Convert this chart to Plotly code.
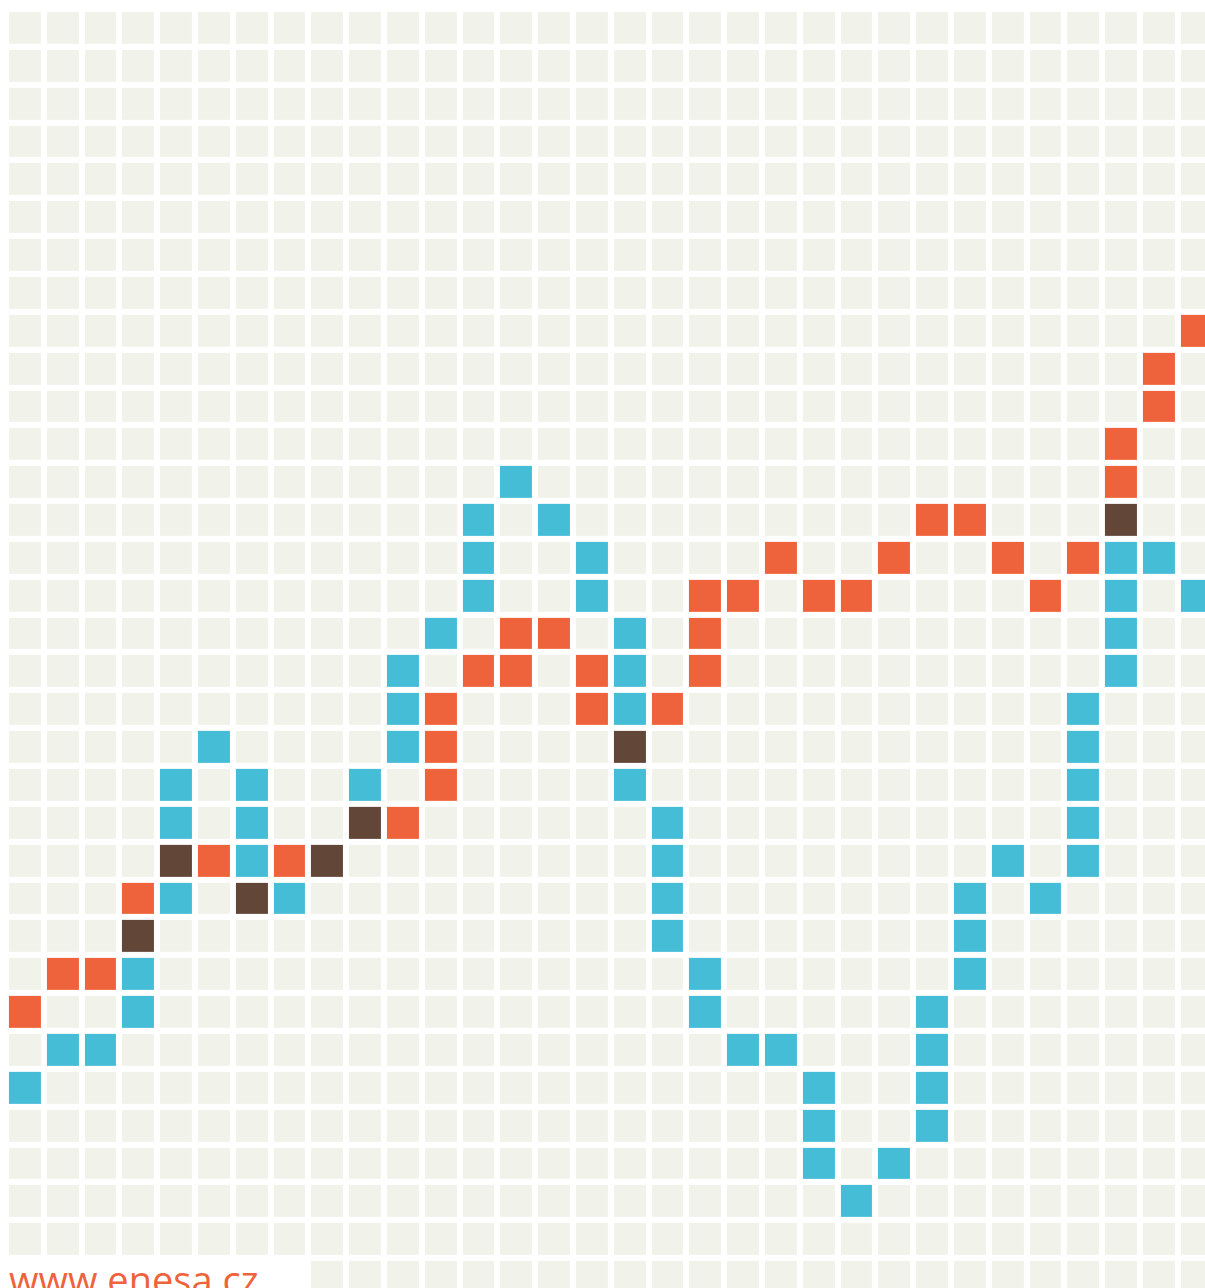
import numpy as np
import plotly.graph_objects as go

# Grid size
n_cols = 32
n_rows = 34

# Orange series cells (column, row counted from the top)
orange_cols = [0, 1, 2, 3, 5, 7, 10, 11, 11, 11, 12, 13, 13, 14, 15, 15, 17, 18, 18, 18,
               19, 20, 21, 22, 23, 24, 25, 26, 27, 28, 29, 29, 30, 30, 31]
orange_rows = [26, 25, 25, 23, 22, 22, 21, 20, 19, 18, 17, 17, 16, 16, 17, 18, 18, 17, 16, 15,
               15, 14, 15, 15, 14, 13, 13, 14, 15, 14, 12, 11, 10, 9, 8]

# Blue series cells
blue_cols = [0, 1, 2, 3, 3, 4, 4, 4, 5, 6, 6, 6, 7, 9, 10, 10, 10, 11, 12, 12, 12, 13, 14,
             15, 15, 16, 16, 16, 16, 17, 17, 17, 17, 18, 18, 19, 20, 21, 21, 21, 22, 23,
             24, 24, 24, 24, 25, 25, 25, 26, 27, 28, 28, 28, 28, 28, 29, 29, 29, 29, 30, 31]
blue_rows = [28, 27, 27, 26, 25, 23, 21, 20, 19, 20, 21, 22, 23, 20, 19, 18, 17, 16, 15, 14, 13, 12, 13,
             14, 15, 16, 17, 18, 20, 21, 22, 23, 24, 25, 26, 27, 27, 28, 29, 30, 31, 30,
             29, 28, 27, 26, 25, 24, 23, 22, 23, 22, 21, 20, 19, 18, 17, 16, 15, 14, 14, 15]

# Cells where both series meet
both_cols = [3, 4, 6, 8, 9, 16, 29]
both_rows = [24, 22, 23, 22, 21, 19, 13]

empty_color = '#f1f3eb'
orange_color = '#ee633c'
blue_color = '#45bdd6'
brown_color = '#624739'

# Build cell matrix: 0 empty, 1 orange, 2 blue, 3 both
z = np.zeros((n_rows, n_cols))
for c, r in zip(orange_cols, orange_rows):
    z[r, c] = 1
for c, r in zip(blue_cols, blue_rows):
    z[r, c] = 2
for c, r in zip(both_cols, both_rows):
    z[r, c] = 3

colorscale = [[0, empty_color], [0.125, empty_color],
              [0.125, orange_color], [0.5, orange_color],
              [0.5, blue_color], [0.875, blue_color],
              [0.875, brown_color], [1, brown_color]]

fig = go.Figure()
fig.add_trace(go.Heatmap(z=z,
                         x=np.arange(n_cols),
                         y=np.arange(n_rows),
                         zmin=0, zmax=3,
                         colorscale=colorscale,
                         showscale=False,
                         xgap=6, ygap=6,
                         hoverinfo='skip'))

# White corner behind the web address
fig.add_shape(type='rect', xref='x', yref='y',
              x0=-1, x1=7.5, y0=32.5, y1=34.5,
              fillcolor='white', line=dict(width=0), layer='above')

fig.add_annotation(text='www.enesa.cz',
                   xref='paper', yref='paper',
                   x=7 / 1205, y=1 - 1251 / 1288,
                   xanchor='left', yanchor='top',
                   showarrow=False,
                   font=dict(family='Open Sans', size=38, color=orange_color))

fig.update_xaxes(visible=False, range=[-0.656, 31.222], fixedrange=True)
fig.update_yaxes(visible=False, range=[33.294, -0.734], fixedrange=True)
fig.update_layout(width=1205, height=1288,
                  margin=dict(l=0, r=0, t=0, b=0),
                  plot_bgcolor='white', paper_bgcolor='white',
                  showlegend=False)

fig.write_html('out.html', config={'displayModeBar': False},
               post_script="document.body.style.margin='0';")
